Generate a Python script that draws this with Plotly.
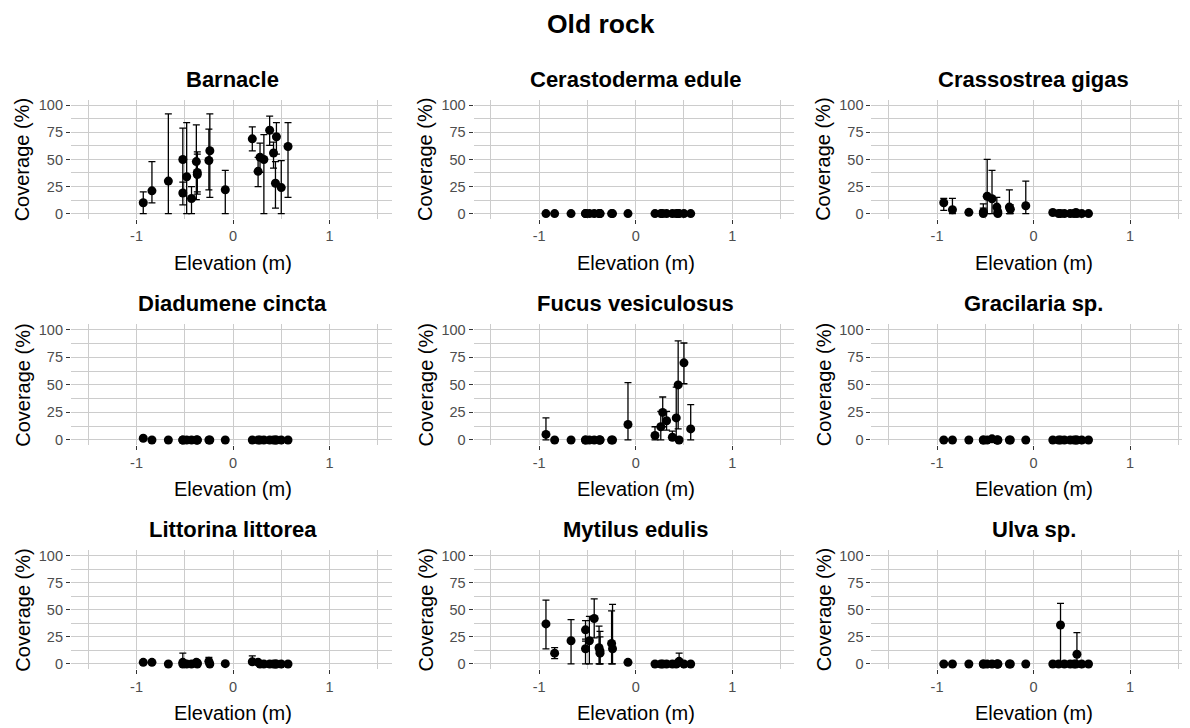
import plotly.graph_objects as go

# ---------------- data ----------------
elevation = [-0.93, -0.84, -0.67, -0.52, -0.52, -0.48, -0.43, -0.38, -0.37, -0.37, -0.25, -0.24,
             -0.08, 0.20, 0.26, 0.28, 0.32, 0.38, 0.42, 0.44, 0.45, 0.50, 0.57]

species = ["Barnacle", "Cerastoderma edule", "Crassostrea gigas",
           "Diadumene cincta", "Fucus vesiculosus", "Gracilaria sp.",
           "Littorina littorea", "Mytilus edulis", "Ulva sp."]

barnacle_mean = [10, 21, 30, 50, 19, 34, 14, 48, 38, 36, 49, 58, 22, 69, 39, 52, 50, 77, 56, 28, 71, 24, 62]
barnacle_lo = [0, 10, 0, 21, 8, 0, 0, 13, 20, 18, 22, 15, 0, 58, 25, 38, 0, 63, 42, 5, 55, 0, 15]
barnacle_hi = [20, 48, 92, 79, 29, 84, 25, 82, 57, 55, 78, 92, 40, 80, 52, 65, 73, 90, 66, 48, 84, 49, 84]

cerastoderma_mean = [0, 0, 0, 0, 0, 0, 0, 0, 0, 0, 0, 0, 0, 0, 0, 0, 0, 0, 0, 0, 0, 0, 0]
cerastoderma_lo = [0, 0, 0, 0, 0, 0, 0, 0, 0, 0, 0, 0, 0, 0, 0, 0, 0, 0, 0, 0, 0, 0, 0]
cerastoderma_hi = [0, 0, 0, 0, 0, 0, 0, 0, 0, 0, 0, 0, 0, 0, 0, 0, 0, 0, 0, 0, 0, 0, 0]

crassostrea_mean = [10, 3.6, 1.2, 1.5, 0, 16, 13.7, 6, 1.5, 0, 6, 4, 7.3, 1, 0, 0, 0, 0, 0, 1, 0, 0, 0]
crassostrea_lo = [3, 0, 1.2, 0, 0, 0, 0, 0, 0, 0, 0, 0, 0, 0, 0, 0, 0, 0, 0, 0, 0, 0, 0]
crassostrea_hi = [14, 14, 1.2, 9, 5, 50, 40, 15, 4, 0, 22, 8, 30, 2, 0, 0, 0, 0, 0, 3, 0, 0, 0]

diadumene_mean = [1.5, 0, 0, 0, 0, 0, 0, 0, 0, 0, 0, 0, 0, 0, 0, 0, 0, 0, 0, 0, 0, 0, 0]
diadumene_lo = [1.5, 0, 0, 0, 0, 0, 0, 0, 0, 0, 0, 0, 0, 0, 0, 0, 0, 0, 0, 0, 0, 0, 0]
diadumene_hi = [1.5, 0, 0, 0, 0, 0, 0, 0, 0, 0, 0, 0, 0, 0, 0, 0, 0, 0, 0, 0, 0, 0, 0]

fucus_mean = [5, 0, 0, 0, 0, 0, 0, 0, 0, 0, 0, 0, 14, 4, 12, 25, 17.4, 2.4, 20, 50, 0, 70, 10]
fucus_lo = [0, 0, 0, 0, 0, 0, 0, 0, 0, 0, 0, 0, 0, 0, 0, 12, 9, 0, 0, 10, 0, 51, 0]
fucus_hi = [20, 0, 0, 0, 0, 0, 0, 0, 0, 0, 0, 0, 52, 12, 26, 39, 26, 8, 48, 90, 0, 88, 32]

gracilaria_mean = [0, 0, 0, 0, 0, 0, 1, 0, 0, 0, 0, 0, 0, 0, 0, 0, 0, 0, 0, 0, 0, 0, 0]
gracilaria_lo = [0, 0, 0, 0, 0, 0, 1, 0, 0, 0, 0, 0, 0, 0, 0, 0, 0, 0, 0, 0, 0, 0, 0]
gracilaria_hi = [0, 0, 0, 0, 0, 0, 1, 0, 0, 0, 0, 0, 0, 0, 0, 0, 0, 0, 0, 0, 0, 0, 0]

littorina_mean = [1.5, 1.5, 0, 1.5, 0, 0, 0, 1.5, 1, 0, 2.4, 0, 0.3, 2, 1.5, 0, 0, 0, 0, 0, 0, 0, 0]
littorina_lo = [1.5, 1.5, 0, 0, 0, 0, 0, 0, 1, 0, 0, 0, 0.3, 0, 0, 0, 0, 0, 0, 0, 0, 0, 0]
littorina_hi = [1.5, 1.5, 0, 10, 0, 0, 0, 3, 1, 0, 6, 0, 0.3, 7.5, 3, 0, 0, 0, 0, 0, 0, 0, 0]

mytilus_mean = [37, 10, 21.4, 31.5, 14, 21.4, 42, 15, 10, 12, 19, 14, 1.5, 0, 0, 0, 0, 0, 0, 1, 2.4, 0, 0]
mytilus_lo = [14, 5, 0, 23, 0, 0, 24, 0, 0, 0, 0, 0, 1.5, 0, 0, 0, 0, 0, 0, 0, 0, 0, 0]
mytilus_hi = [59, 15, 41, 40, 21, 44, 60, 35, 30, 25, 49, 55, 1.5, 0, 0, 0, 0, 0, 0, 3, 10, 0, 0]

ulva_mean = [0, 0, 0, 0, 0, 0, 0, 0, 0, 0, 0, 0, 0, 0, 0, 36, 0, 0, 0, 0, 9, 0, 0]
ulva_lo = [0, 0, 0, 0, 0, 0, 0, 0, 0, 0, 0, 0, 0, 0, 0, 0, 0, 0, 0, 0, 0, 0, 0]
ulva_hi = [0, 0, 0, 0, 0, 0, 0, 0, 0, 0, 0, 0, 0, 0, 0, 56, 0, 0, 0, 0, 29, 0, 0]

series = [
    (barnacle_mean, barnacle_lo, barnacle_hi),
    (cerastoderma_mean, cerastoderma_lo, cerastoderma_hi),
    (crassostrea_mean, crassostrea_lo, crassostrea_hi),
    (diadumene_mean, diadumene_lo, diadumene_hi),
    (fucus_mean, fucus_lo, fucus_hi),
    (gracilaria_mean, gracilaria_lo, gracilaria_hi),
    (littorina_mean, littorina_lo, littorina_hi),
    (mytilus_mean, mytilus_lo, mytilus_hi),
    (ulva_mean, ulva_lo, ulva_hi),
]

y_ticks = [0, 25, 50, 75, 100]
x_ticks = [-1, 0, 1]

# ---------------- layout geometry (screen pixels; page body has an 8px margin) ----------------
OFF = 8
W, H = 1190 - OFF, 728 - OFF
PX_PER_UNIT = 96.5
X_MIN, X_MAX = -1.68, 1.645
col_zero = [233.0 - OFF, 635.7 - OFF, 1033.5 - OFF]
row_top = [98.5 - OFF, 324.5 - OFF, 552.0 - OFF]
row_bot = [218.5 - OFF, 446.5 - OFF, 672.0 - OFF]

FONT = "Liberation Sans, Arial, sans-serif"
GRID = "#cccccc"

fig = go.Figure()
layout = dict(
    width=W, height=H,
    margin=dict(l=0, r=0, t=0, b=0),
    paper_bgcolor="white", plot_bgcolor="white",
    showlegend=False,
    font=dict(family=FONT, color="#000000"),
)
annotations = []

for i, name in enumerate(species):
    r, c = divmod(i, 3)
    mean, lo, hi = series[i]
    ax = "" if i == 0 else str(i + 1)
    left = col_zero[c] + X_MIN * PX_PER_UNIT
    right = col_zero[c] + X_MAX * PX_PER_UNIT
    xmax = X_MAX
    if right > W:
        right = W
        xmax = (W - col_zero[c]) / PX_PER_UNIT
    dx = [left / W, right / W]
    dy = [1 - row_bot[r] / H, 1 - row_top[r] / H]

    fig.add_trace(go.Scatter(
        x=elevation, y=mean, mode="markers",
        marker=dict(color="black", size=9),
        error_y=dict(type="data", symmetric=False,
                     array=[h - m for h, m in zip(hi, mean)],
                     arrayminus=[m - l for m, l in zip(mean, lo)],
                     color="black", thickness=1.3, width=3.5),
        xaxis="x" + ax, yaxis="y" + ax, hoverinfo="x+y",
    ))

    layout["xaxis" + ax] = dict(
        domain=dx, range=[X_MIN, xmax], anchor="y" + ax,
        tickvals=x_ticks, ticktext=[str(v) for v in x_ticks],
        showgrid=True, gridcolor=GRID, gridwidth=1.3, zeroline=False,
        minor=dict(tickvals=[-1.5, -0.5, 0.5, 1.5], showgrid=True, gridcolor=GRID, gridwidth=1.3, ticks=""),
        ticks="outside", ticklen=4, tickwidth=1, tickcolor="#333333",
        tickfont=dict(size=14.5, color="#4d4d4d", family=FONT),
        showline=False, fixedrange=True,
    )
    layout["yaxis" + ax] = dict(
        domain=dy, range=[-5, 105], anchor="x" + ax,
        tickvals=y_ticks, ticktext=[str(v) for v in y_ticks],
        showgrid=True, gridcolor=GRID, gridwidth=1.3, zeroline=False,
        minor=dict(tickvals=[12.5, 37.5, 62.5, 87.5], showgrid=True, gridcolor=GRID, gridwidth=1.3, ticks=""),
        ticks="outside", ticklen=4, tickwidth=1, tickcolor="#333333",
        tickfont=dict(size=14.5, color="#4d4d4d", family=FONT),
        showline=False, fixedrange=True,
    )

    # panel title
    annotations.append(dict(
        text="<b>" + name + "</b>", x=col_zero[c] / W, y=1 - (row_top[r] - 21) / H,
        xref="paper", yref="paper", showarrow=False, xanchor="center", yanchor="middle",
        font=dict(size=22, color="black", family=FONT)))
    # x axis title
    annotations.append(dict(
        text="Elevation (m)", x=col_zero[c] / W, y=1 - (row_bot[r] + 44) / H,
        xref="paper", yref="paper", showarrow=False, xanchor="center", yanchor="middle",
        font=dict(size=20, color="black", family=FONT)))
    # y axis title
    annotations.append(dict(
        text="Coverage (%)", x=(left - 48) / W, y=1 - (row_top[r] + row_bot[r]) / 2 / H,
        xref="paper", yref="paper", showarrow=False, xanchor="center", yanchor="middle",
        textangle=-90, font=dict(size=20, color="black", family=FONT)))

annotations.append(dict(
    text="<b>Old rock</b>", x=(601 - OFF) / W, y=1 - (22 - OFF) / H, xref="paper", yref="paper",
    showarrow=False, xanchor="center", yanchor="middle",
    font=dict(size=26.5, color="black", family=FONT)))

layout["annotations"] = annotations
fig.update_layout(**layout)
fig.write_html("out.html")
